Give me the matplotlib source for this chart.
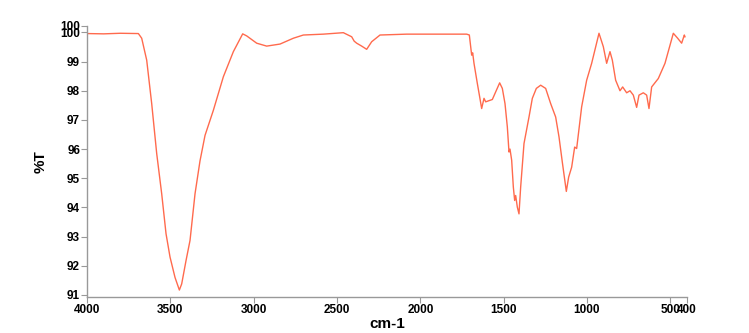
import numpy as np
import matplotlib
matplotlib.use("Agg")
from matplotlib import pyplot as plt

#-----------------------------------------------------------------------------------------

# wavenumber (cm-1) and transmittance (%T)
wavenumber = [4000, 3900, 3800, 3692, 3672, 3642, 3612, 3582, 3552, 3526, 3502, 3472,
              3446, 3432, 3406, 3382, 3352, 3322, 3292, 3242, 3182, 3122, 3066, 3042,
              2982, 2922, 2842, 2762, 2702, 2582, 2462, 2412, 2397, 2382, 2352, 2322,
              2292, 2242, 2082, 1882, 1722, 1706, 1692, 1686, 1678, 1658, 1644, 1632,
              1618, 1608, 1568, 1548, 1524, 1508, 1492, 1478, 1468, 1462, 1452, 1442,
              1434, 1428, 1418, 1408, 1398, 1378, 1348, 1328, 1304, 1278, 1248, 1218,
              1188, 1168, 1148, 1124, 1110, 1092, 1074, 1062, 1032, 1002, 972, 928,
              902, 882, 862, 848, 828, 802, 786, 762, 742, 722, 702, 688, 662, 642,
              628, 612, 572, 532, 482, 456, 432, 416, 412]
transmittance = [99.96, 99.95, 99.97, 99.96, 99.80, 99.05, 97.56, 95.85, 94.47, 93.10,
                 92.30, 91.60, 91.17, 91.38, 92.18, 92.87, 94.47, 95.60, 96.47, 97.33,
                 98.48, 99.34, 99.95, 99.88, 99.63, 99.53, 99.60, 99.80, 99.91, 99.94,
                 99.99, 99.85, 99.70, 99.63, 99.53, 99.42, 99.68, 99.91, 99.94, 99.94,
                 99.94, 99.91, 99.22, 99.30, 98.94, 98.25, 97.79, 97.39, 97.74, 97.62,
                 97.70, 97.96, 98.27, 98.08, 97.56, 96.76, 95.90, 96.00, 95.62, 94.70,
                 94.24, 94.41, 94.01, 93.78, 94.70, 96.19, 97.10, 97.74, 98.08, 98.19,
                 98.08, 97.56, 97.10, 96.42, 95.55, 94.55, 95.04, 95.38, 96.07, 96.02,
                 97.45, 98.36, 98.94, 99.97, 99.51, 98.94, 99.34, 99.05, 98.36, 98.00,
                 98.13, 97.93, 98.00, 97.85, 97.43, 97.85, 97.93, 97.85, 97.39, 98.13,
                 98.42, 98.94, 99.97, 99.80, 99.63, 99.91, 99.85]

x_ticks = [4000, 3500, 3000, 2500, 2000, 1500, 1000, 500, 400]
y_ticks = [91, 92, 93, 94, 95, 96, 97, 98, 99, 100, 100.22]

#-----------------------------------------------------------------------------------------

plt.rcParams['font.family'] = ['Liberation Sans', 'DejaVu Sans']
plt.rcParams['font.weight'] = 'bold'

fig = plt.figure(figsize=(7.49, 3.33), dpi=100)
ax = fig.add_axes([0.1162, 0.108, 0.801, 0.814])

ax.plot(wavenumber, transmittance, color='#ff6a4d', lw=1.0)

ax.set_xlim(4000, 400)
ax.set_ylim(90.93, 100.22)
ax.set_xticks(x_ticks)
ax.set_xticklabels([str(t) for t in x_ticks])
ax.set_yticks(y_ticks)
ax.set_yticklabels(['%d' % t for t in y_ticks])

for side in ['top', 'right']:
    ax.spines[side].set_visible(False)
for side in ['left', 'bottom']:
    ax.spines[side].set_color('#999999')
    ax.spines[side].set_linewidth(1.0)

ax.tick_params(axis='both', colors='#999999', labelcolor='black', labelsize=8.5,
               length=4, width=0.8, pad=1)

ax.set_xlabel('cm-1', fontsize=11, fontweight='bold', labelpad=1)
ax.set_ylabel('%T', fontsize=11, fontweight='bold', labelpad=9)

fig.savefig("out.png", dpi=100)
